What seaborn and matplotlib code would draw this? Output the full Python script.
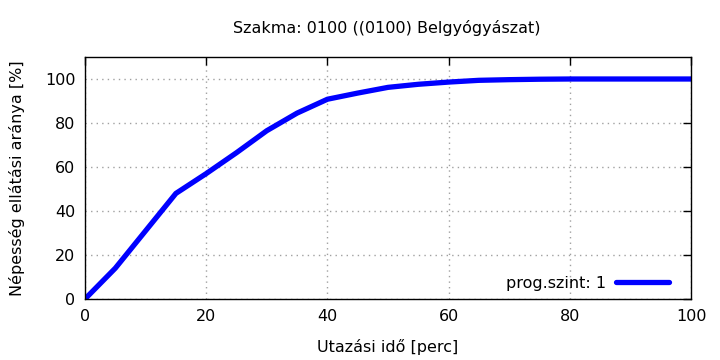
import matplotlib
matplotlib.use("Agg")
import matplotlib.pyplot as plt
import seaborn as sns
import pandas as pd

minutes = [0, 5, 10, 15, 20, 25, 30, 35, 40, 45, 50, 55, 60, 65, 70, 75, 80, 85, 90, 95, 100]
share = [0, 14, 31, 48, 57, 66.5, 76.5, 84.5, 90.8, 93.6, 96.2, 97.6, 98.6, 99.4, 99.7, 99.9, 100, 100, 100, 100, 100]
series_label = "prog.szint: 1"
title = "Szakma: 0100 ((0100) Belgyógyászat)"
xlabel = "Utazási idő [perc]"
ylabel = "Népesség ellátási aránya [%]"
xticks = [0, 20, 40, 60, 80, 100]
yticks = [0, 20, 40, 60, 80, 100]

sns.set_theme(style="white")
plt.rcParams['font.family'] = ['DejaVu Sans']
plt.rcParams['text.color'] = 'black'
plt.rcParams['axes.labelcolor'] = 'black'

df = pd.DataFrame({"x": minutes, "y": share, "s": series_label})

fig = plt.figure(figsize=(7.2, 3.6), dpi=100)
ax = fig.add_axes([85/720, 61/360, 606/720, 242/360])
sns.lineplot(data=df, x="x", y="y", hue="s", palette=["#0000ff"], lw=3.8, ax=ax)
ax.set_xlim(0, 100)
ax.set_ylim(0, 110)
ax.set_xticks(xticks)
ax.set_yticks(yticks)
ax.tick_params(direction="in", length=6, width=1, top=True, right=True, labelsize=11.5, colors="black", pad=7)
ax.tick_params(axis="x", labeltop=False)
ax.tick_params(axis="y", labelright=False)
for s in ax.spines.values():
    s.set_color("black")
    s.set_linewidth(1)
ax.grid(True, color="#a0a0a0", linestyle=(0, (1, 3)), linewidth=1)
ax.set_xlabel(xlabel, fontsize=11.5, labelpad=11, color="black")
ax.set_ylabel(ylabel, fontsize=11.5, labelpad=14, color="black")
fig.text(387/720, 1-28/360, title, ha="center", va="center", fontsize=11.5, color="black")
leg = ax.legend(loc="lower right", frameon=False, fontsize=11.5, handlelength=3.3, markerfirst=False,
                bbox_to_anchor=(1 - 16/606, 2/242), borderaxespad=0, handletextpad=0.6)
for t in leg.get_texts():
    t.set_color("black")
fig.savefig("out.png", dpi=100)
